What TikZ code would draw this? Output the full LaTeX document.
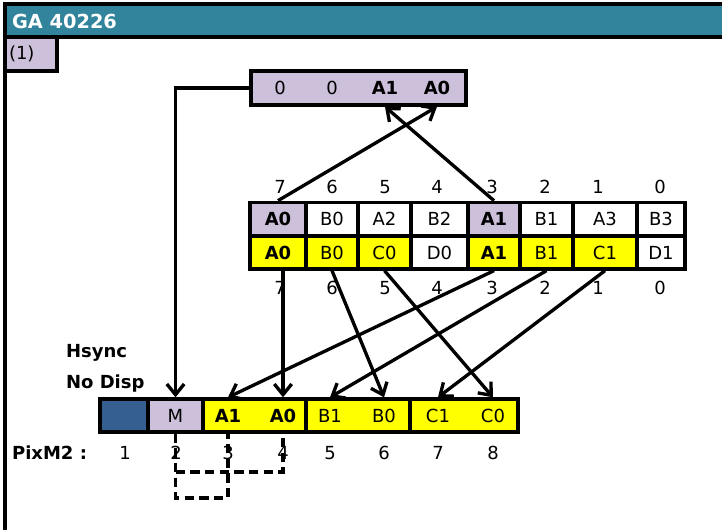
\documentclass[tikz,border=0pt]{standalone}
\usepackage{fontspec}
\setmainfont{DejaVu Sans}
\usetikzlibrary{arrows.meta}
\definecolor{titleteal}{RGB}{49,132,155}
\definecolor{lav}{RGB}{204,192,218}
\definecolor{yel}{RGB}{255,255,0}
\definecolor{pixblue}{RGB}{54,95,145}

\begin{document}
\begin{tikzpicture}[x=0.75pt, y=-0.75pt, line width=2.5pt,
  every node/.style={font=\fontsize{13.5}{16}\selectfont},
  cell/.style={draw, line width=2.5pt, inner sep=0pt, minimum height=25pt},
  txt/.style={inner sep=0pt, minimum height=25pt},
  arr/.style={-{Straight Barb[length=8pt,width=13pt,line width=2.5pt]}, line width=2.5pt},
  dsh/.style={dash pattern=on 7pt off 4pt, line width=2.5pt}]
  \useasboundingbox (0,0) rectangle (722,530);

  % frame and title
  \draw[fill=white] (5,4) rectangle (745,560);
  \draw[fill=titleteal] (5,4) rectangle (745,37);
  \node[anchor=west, text=white, font=\fontsize{14.5}{17}\selectfont\bfseries] (title) at (6,21) {GA 40226};
  \draw[fill=lav] (5,37) rectangle (57,71);
  \node[anchor=west, inner sep=1pt] (tag) at (6,54) {(1)};

  % register on top
  \node[cell, fill=lav, minimum width=161.25pt, minimum height=25.5pt] (reg) at (358.5,88) {};
  \foreach \x/\t/\n in {280/0/ra, 332/0/rb, 385/\textbf{A1}/rA1, 437/\textbf{A0}/rA0}
    \node[txt, minimum height=25.5pt] (\n) at (\x,88) {\t};

  % byte table
  \foreach \xa/\xb/\t/\c [count=\i] in {250/306/\textbf{A0}/lav, 306/358/B0/white,
      358/411/A2/white, 411/468/B2/white, 468/520/\textbf{A1}/lav, 520/573/B1/white,
      573/637/A3/white, 637/685/B3/white}
    \node[cell, fill=\c, minimum width={(\xb-\xa)*0.75pt}] (r1c\i) at ({(\xa+\xb)/2},219) {\t};
  \foreach \xa/\xb/\t/\c [count=\i] in {250/306/\textbf{A0}/yel, 306/358/B0/yel,
      358/411/C0/yel, 411/468/D0/white, 468/520/\textbf{A1}/yel, 520/573/B1/yel,
      573/637/C1/yel, 637/685/D1/white}
    \node[cell, fill=\c, minimum width={(\xb-\xa)*0.75pt}, minimum height=24.75pt] (r2c\i) at ({(\xa+\xb)/2},252.5) {\t};
  \foreach \x/\t [count=\i] in {280/7, 332/6, 385/5, 437/4, 492/3, 545/2, 598/1, 660/0} {
    \node (bu\i) at (\x,187) {\t};
    \node (bd\i) at (\x,288) {\t};
  }

  % pixel bar
  \node[cell, fill=pixblue, minimum width=36pt, minimum height=24.75pt] (p1) at (124,415.5) {};
  \node[cell, fill=lav, minimum width=41.25pt, minimum height=24.75pt] (p2) at (175.5,415.5) {M};
  \node[cell, fill=yel, minimum width=77.25pt, minimum height=24.75pt] (p3) at (254.5,415.5) {};
  \node[cell, fill=yel, minimum width=78pt, minimum height=24.75pt] (p4) at (358,415.5) {};
  \node[cell, fill=yel, minimum width=81pt, minimum height=24.75pt] (p5) at (464,415.5) {};
  \foreach \x/\t/\n in {228/\textbf{A1}/lA1, 283/\textbf{A0}/lA0, 330/B1/lB1,
      384/B0/lB0, 438/C1/lC1, 493/C0/lC0}
    \node[txt, minimum height=24.75pt] (\n) at (\x,415.5) {\t};

  \node[anchor=west, font=\fontsize{13.5}{16}\selectfont\bfseries] (hsync) at (60,353) {Hsync};
  \node[anchor=west, font=\fontsize{13.5}{16}\selectfont\bfseries] (nodisp) at (60,384) {No Disp};
  \node[anchor=west, font=\fontsize{13.5}{16}\selectfont\bfseries] (pixm) at (6,453) {PixM2 :};
  \foreach \x/\t [count=\i] in {125/1, 176/2, 228/3, 283/4, 330/5, 384/6, 438/7, 493/8}
    \node (n\i) at (\x,453) {\t};

  % arrows
  \draw[arr] (r1c1.north) -- (rA0.south);
  \draw[arr] (r1c5.north) -- (rA1.south);
  \draw[arr] (reg.west) -| (p2.north);
  \draw[arr] (lA0 |- r2c1.south) -- (lA0.north);
  \draw[arr] (r2c5.south) -- (lA1.north);
  \draw[arr] (r2c2.south) -- (lB0.north);
  \draw[arr] (r2c3.south) -- (lC0.north);
  \draw[arr] (r2c6.south) -- (lB1.north);
  \draw[arr] (r2c7.south) -- (lC1.north);

  % dashed links
  \coordinate (dmid) at (0,472);
  \coordinate (dbot) at (0,498);
  \draw[dsh] (p2.south) -- (p2.south |- dbot) -| (lA1.south);
  \draw[dsh] (p2.south |- dmid) -| (lA0.south);
\end{tikzpicture}
\end{document}
